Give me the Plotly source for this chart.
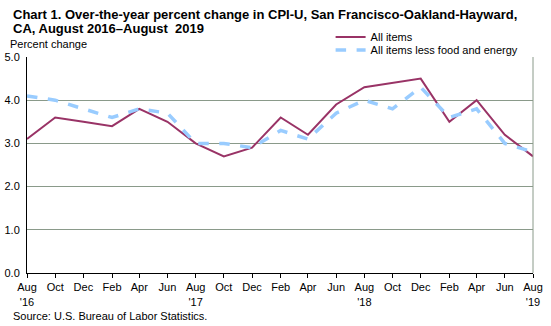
import plotly.graph_objects as go

months = ["2016-08", "2016-10", "2016-12", "2017-02", "2017-04", "2017-06",
          "2017-08", "2017-10", "2017-12", "2018-02", "2018-04", "2018-06",
          "2018-08", "2018-10", "2018-12", "2019-02", "2019-04", "2019-06",
          "2019-08"]
tick_labels = ["Aug<br>'16", "Oct", "Dec", "Feb", "Apr", "Jun",
               "Aug<br>'17", "Oct", "Dec", "Feb", "Apr", "Jun",
               "Aug<br>'18", "Oct", "Dec", "Feb", "Apr", "Jun",
               "Aug<br>'19"]
all_items = [3.1, 3.6, 3.5, 3.4, 3.8, 3.5, 3.0, 2.7, 2.9, 3.6, 3.2, 3.9,
             4.3, 4.4, 4.5, 3.5, 4.0, 3.2, 2.7]
core = [4.1, 4.0, 3.8, 3.6, 3.8, 3.7, 3.0, 3.0, 2.9, 3.3, 3.1, 3.7,
        4.0, 3.8, 4.3, 3.6, 3.8, 3.0, 2.8]

FONT = "Liberation Sans, Arial, sans-serif"

fig = go.Figure()
fig.add_trace(go.Scatter(x=months, y=all_items, mode="lines", name="All items",
                         line=dict(color="#993366", width=2), legend="legend"))
fig.add_trace(go.Scatter(x=months, y=core, mode="lines",
                         name="All items less food and energy",
                         line=dict(color="#99CCFF", width=3.5, dash="dash"),
                         legend="legend2"))

leg_common = dict(xanchor="left", yanchor="middle", bgcolor="rgba(0,0,0,0)",
                  font=dict(size=11), itemwidth=30)

fig.update_layout(
    width=551, height=326,
    margin=dict(l=27, r=18, t=57, b=53, autoexpand=False),
    paper_bgcolor="white", plot_bgcolor="white",
    font=dict(family=FONT, size=11, color="black"),
    showlegend=True,
    legend=dict(x=0.6, y=1.093, **leg_common),
    legend2=dict(x=0.6, y=1.032, **leg_common),
    xaxis=dict(type="date", range=["2016-08-01", "2019-08-01"],
               tickvals=months, ticktext=tick_labels, tickangle=0,
               showgrid=False, showline=True, linecolor="black", linewidth=1,
               ticks="outside", ticklen=4, tickcolor="black", tickwidth=1,
               zeroline=False, tickfont=dict(size=11), automargin=False),
    yaxis=dict(range=[0, 5], tickvals=[0, 1, 2, 3, 4, 5], tickformat=".1f",
               showgrid=True, gridcolor="#8a9a8a", gridwidth=1,
               showline=True, linecolor="black", linewidth=1,
               ticks="", zeroline=False, tickfont=dict(size=11),
               ticklabelstandoff=4, automargin=False),
    shapes=[dict(type="line", xref="paper", yref="paper", x0=1, x1=1, y0=0, y1=1,
                 line=dict(color="#8a9a8a", width=1))],
    annotations=[
        dict(text="<b>Chart 1. Over-the-year percent change in CPI-U, San Francisco-Oakland-Hayward,</b>",
             xref="paper", yref="paper", x=-0.032, y=1.198, xanchor="left", yanchor="middle",
             showarrow=False, font=dict(size=13)),
        dict(text="<b>CA, August 2016\u2013August  2019</b>",
             xref="paper", yref="paper", x=-0.032, y=1.133, xanchor="left", yanchor="middle",
             showarrow=False, font=dict(size=13)),
        dict(text="Percent change", xref="paper", yref="paper", x=-0.038, y=1.058,
             xanchor="left", yanchor="middle", showarrow=False, font=dict(size=11)),
        dict(text="Source: U.S. Bureau of Labor Statistics.", xref="paper", yref="paper",
             x=-0.032, y=-0.2, xanchor="left", yanchor="middle", showarrow=False,
             font=dict(size=11)),
    ],
)

fig.write_html("out.html")
